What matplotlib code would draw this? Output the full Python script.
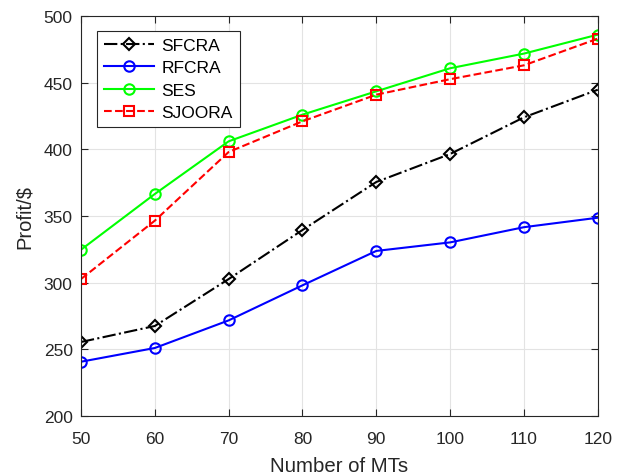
import matplotlib.pyplot as plt
import numpy as np

plt.rcParams['font.family'] = ['Liberation Sans', 'DejaVu Sans']

mts = [50, 60, 70, 80, 90, 100, 110, 120]
sfcra = [255.5, 267.5, 302.7, 339.5, 375.5, 396.5, 424, 444.7]
rfcra = [240.7, 251, 271.7, 298, 323.8, 330.2, 341.6, 348.7]
ses = [324.7, 366.5, 406, 426, 443.5, 460.8, 471.8, 486]
sjoora = [302.7, 346.5, 398, 421, 441, 452.6, 463, 483]

fig = plt.figure(figsize=(6.24, 4.77), dpi=100)
ax = fig.add_axes([0.1298, 0.1258, 0.8282, 0.8386])

lw = 1.5
ax.plot(mts, sfcra, '-.', color='black', marker='D', ms=6.5, mfc='none', mew=1.5, lw=lw, label='SFCRA')
ax.plot(mts, rfcra, '-', color='blue', marker='o', ms=7.5, mfc='none', mew=1.5, lw=lw, label='RFCRA')
ax.plot(mts, ses, '-', color='#00ff00', marker='o', ms=7.5, mfc='none', mew=1.5, lw=lw, label='SES')
ax.plot(mts, sjoora, '--', color='red', marker='s', ms=6.5, mfc='none', mew=1.5, lw=lw, label='SJOORA')

ax.set_xlim(50, 120)
ax.set_ylim(200, 500)
ax.set_xticks(np.arange(50, 121, 10))
ax.set_yticks(np.arange(200, 501, 50))
ax.grid(True, color='#e3e3e3', lw=0.8)
ax.set_axisbelow(True)
ax.tick_params(direction='in', labelsize=12.5, top=True, right=True, length=5,
               color='#262626', labelcolor='#262626')
ax.tick_params(axis='x', pad=11)
ax.tick_params(axis='y', pad=6)
for s in ax.spines.values():
    s.set_color('#262626')
    s.set_linewidth(0.8)

ax.set_xlabel('Number of MTs', fontsize=14.7, color='#262626', labelpad=7)
ax.set_ylabel('Profit/$', fontsize=14.5, color='#262626', labelpad=7)

leg = ax.legend(loc='upper left', bbox_to_anchor=(0.031, 0.963), fontsize=12.5, fancybox=False,
                edgecolor='#262626', framealpha=1, handlelength=2.9, handletextpad=0.4,
                borderpad=0.4, labelspacing=0.42, borderaxespad=0)
leg.get_frame().set_linewidth(0.8)

fig.savefig('out.png', dpi=100)
